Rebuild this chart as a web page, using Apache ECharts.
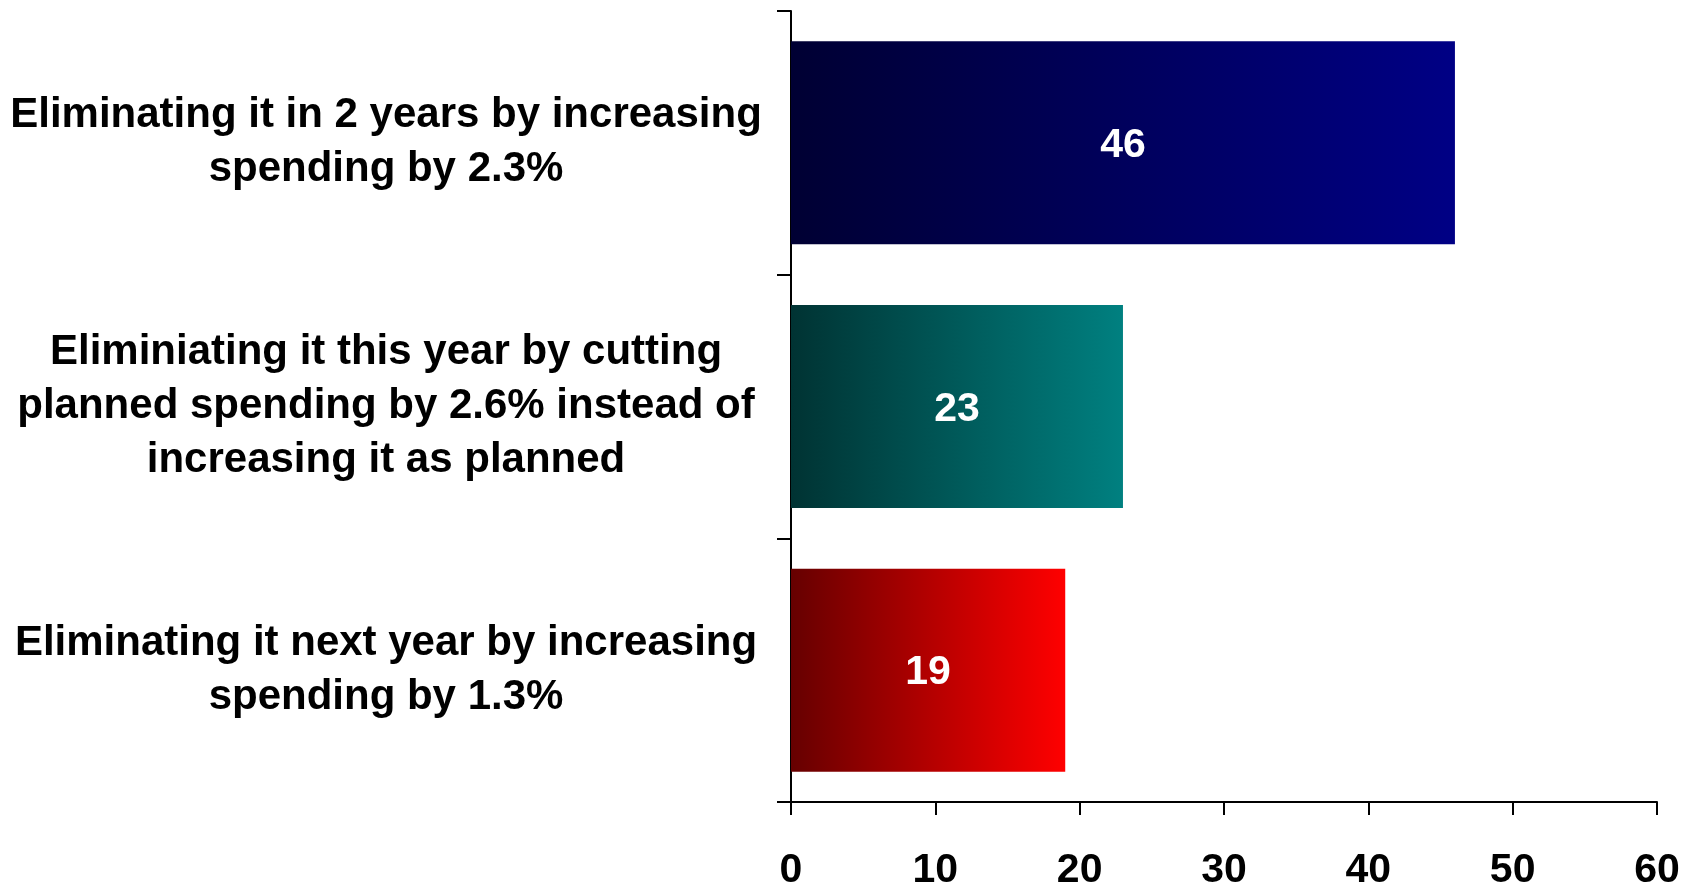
<!DOCTYPE html>
<html>
<head>
<meta charset="utf-8">
<script src="https://cdn.jsdelivr.net/npm/echarts@6/dist/echarts.min.js"></script>
<style>
html,body{margin:0;padding:0;background:#fff;}
#main{width:1694px;height:885px;}
</style>
</head>
<body>
<div id="main"></div>
<script>
// Data (top to bottom)
const categories = [
  'Eliminating it in 2 years by increasing\nspending by 2.3%',
  'Eliminiating it this year by cutting\nplanned spending by 2.6% instead of\nincreasing it as planned',
  'Eliminating it next year by increasing\nspending by 1.3%'
];
const values = [46, 23, 19];
const xTicks = [0, 10, 20, 30, 40, 50, 60];

// Styles
const barGradients = [
  ['#000033', '#000085'],
  ['#003333', '#008080'],
  ['#660000', '#ff0000']
];
const FONT = '"Liberation Sans Narrow", "Arial Narrow", "Liberation Sans", Arial, sans-serif';

const chart = echarts.init(document.getElementById('main'));
chart.setOption({
  animation: false,
  backgroundColor: '#ffffff',
  grid: { left: 791, right: 37, top: 11, bottom: 83, containLabel: false, outerBoundsMode: 'none' },
  xAxis: {
    type: 'value',
    min: xTicks[0],
    max: xTicks[xTicks.length - 1],
    interval: 10,
    splitLine: { show: false },
    axisLine: { show: true, lineStyle: { color: '#000', width: 2 } },
    axisTick: { show: true, length: 13, lineStyle: { color: '#000', width: 2 } },
    axisLabel: {
      margin: 48,
      color: '#000',
      fontFamily: FONT,
      fontWeight: 'bold',
      fontSize: 41
    }
  },
  yAxis: {
    type: 'category',
    inverse: true,
    data: categories,
    axisLine: { show: true, lineStyle: { color: '#000', width: 2 } },
    axisTick: { show: true, length: 14, lineStyle: { color: '#000', width: 2 } },
    axisLabel: {
      margin: 405,
      align: 'center',
      padding: [6, 0, 0, 0],
      color: '#000',
      fontFamily: FONT,
      fontWeight: 'bold',
      fontSize: 42,
      lineHeight: 54
    }
  },
  series: [{
    type: 'bar',
    barCategoryGap: '23%',
    data: values.map((v, i) => ({
      value: v,
      itemStyle: {
        color: new echarts.graphic.LinearGradient(0, 0, 1, 0, [
          { offset: 0, color: barGradients[i][0] },
          { offset: 1, color: barGradients[i][1] }
        ])
      }
    })),
    label: {
      show: true,
      position: 'inside',
      offset: [0, 3],
      color: '#fff',
      fontFamily: FONT,
      fontWeight: 'bold',
      fontSize: 41
    }
  }]
});
</script>
</body>
</html>
